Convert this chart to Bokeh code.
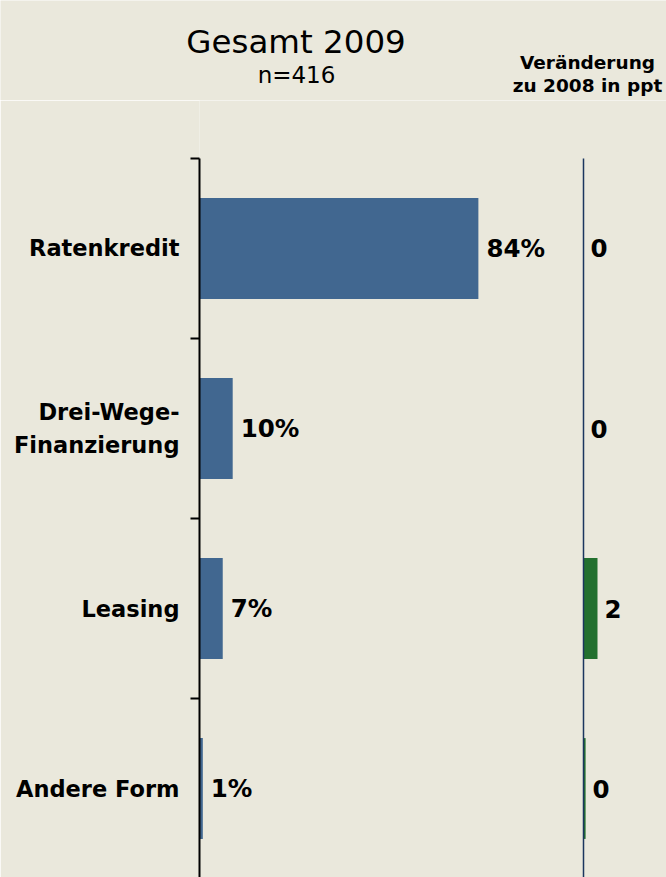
from bokeh.plotting import figure
from bokeh.layouts import column
from bokeh.models import Range1d, FixedTicker, Label, ColumnDataSource
from bokeh.core.properties import value
from bokeh.embed import file_html
from bokeh.resources import INLINE

# ---- data ----
categories = ["Ratenkredit", "Drei-Wege-\nFinanzierung", "Leasing", "Andere Form"]
shares_2009 = [84, 10, 7, 1]          # % share 2009
change_ppt = [0, 0, 2, 0.3]           # change vs 2008 in ppt
title_text = "Gesamt 2009"
sample_text = "n=416"
header_lines = ["Veränderung", "zu 2008 in ppt"]

BG = "#EAE8DC"
BLUE = "#416790"
GREEN = "#23702F"
FONT = "DejaVu Sans"

# layout ranges (180 px per category, first boundary 58 px below the frame top)
Y_TOP, Y_BOTTOM = -0.8222, 3.4944
X_MAX = 140.66
CHG_MIN, CHG_MAX = -54.857, 11.857

# ---- header figure (titles) ----
head = figure(width=666, height=100, output_backend="svg", toolbar_location=None,
              x_range=Range1d(0, 1), y_range=Range1d(0, 1),
              x_axis_location=None, y_axis_location=None,
              min_border_left=0, min_border_right=0, min_border_top=0, min_border_bottom=0,
              background_fill_color=BG, border_fill_color=BG, outline_line_color=None)
head.frame_align = False
head.grid.visible = False
head.add_layout(Label(x=295.5, y=59, x_units="screen", y_units="screen", text=title_text,
                      text_align="center", text_baseline="alphabetic",
                      text_font=FONT, text_font_size="32.5px", text_color="black"))
head.add_layout(Label(x=296, y=26, x_units="screen", y_units="screen", text=sample_text,
                      text_align="center", text_baseline="alphabetic",
                      text_font=FONT, text_font_size="23px", text_color="black"))
for line, yy in zip(header_lines, [38, 15]):
    head.add_layout(Label(x=587, y=yy, x_units="screen", y_units="screen", text=line,
                          text_align="center", text_baseline="alphabetic",
                          text_font=FONT, text_font_style="bold", text_font_size="18.5px",
                          text_color="black"))

# ---- main chart ----
idx = list(range(len(categories)))
src = ColumnDataSource(dict(
    y=idx,
    share=shares_2009,
    share_lbl=[f"{v}%" for v in shares_2009],
    chg=change_ppt,
    chg_lbl=[f"{round(c)}" for c in change_ppt],
))

p = figure(width=666, height=777, output_backend="svg", toolbar_location=None,
           x_range=Range1d(0, X_MAX), y_range=Range1d(Y_BOTTOM, Y_TOP),
           x_axis_location=None,
           min_border_left=199, min_border_right=0, min_border_top=0, min_border_bottom=0,
           background_fill_color=BG, border_fill_color=BG, outline_line_color=None)
p.frame_align = False
p.extra_x_ranges = {"chg": Range1d(CHG_MIN, CHG_MAX)}
p.grid.visible = False

p.hbar(y="y", left=0, right="share", height=0.56, source=src,
       fill_color=BLUE, line_color=None)
p.hbar(y="y", left=0, right="chg", height=0.56, source=src,
       fill_color=GREEN, line_color=None, x_range_name="chg")
# vertical zero line of the change panel
p.segment(x0=[0], x1=[0], y0=[-0.5], y1=[Y_BOTTOM], x_range_name="chg",
          line_color="#1B355E", line_width=1.5)

p.text(x="share", y="y", text="share_lbl", source=src, x_offset=8,
       text_baseline="middle", text_align="left", text_font=value(FONT),
       text_font_style="bold", text_font_size="24.5px", text_color="black")
p.text(x="chg", y="y", text="chg_lbl", source=src, x_offset=7, x_range_name="chg",
       text_baseline="middle", text_align="left", text_font=value(FONT),
       text_font_style="bold", text_font_size="24.5px", text_color="black")

ax = p.yaxis[0]
ax.bounds = (-0.5, Y_BOTTOM)
ax.ticker = FixedTicker(ticks=idx, minor_ticks=[i - 0.5 for i in range(len(categories) + 1)])
ax.major_label_overrides = {i: c for i, c in enumerate(categories)}
ax.axis_line_color = "black"
ax.axis_line_width = 2
ax.major_tick_out = 0
ax.major_tick_in = 0
ax.minor_tick_out = 9
ax.minor_tick_in = 0
ax.minor_tick_line_color = "black"
ax.minor_tick_line_width = 2
ax.major_label_standoff = 11
ax.major_label_text_font = FONT
ax.major_label_text_font_style = "bold"
ax.major_label_text_font_size = "22.5px"
ax.major_label_text_color = "black"
ax.major_label_text_line_height = 1.3

layout = column(head, p, spacing=0)
open("out.html", "w").write(file_html(layout, INLINE))
